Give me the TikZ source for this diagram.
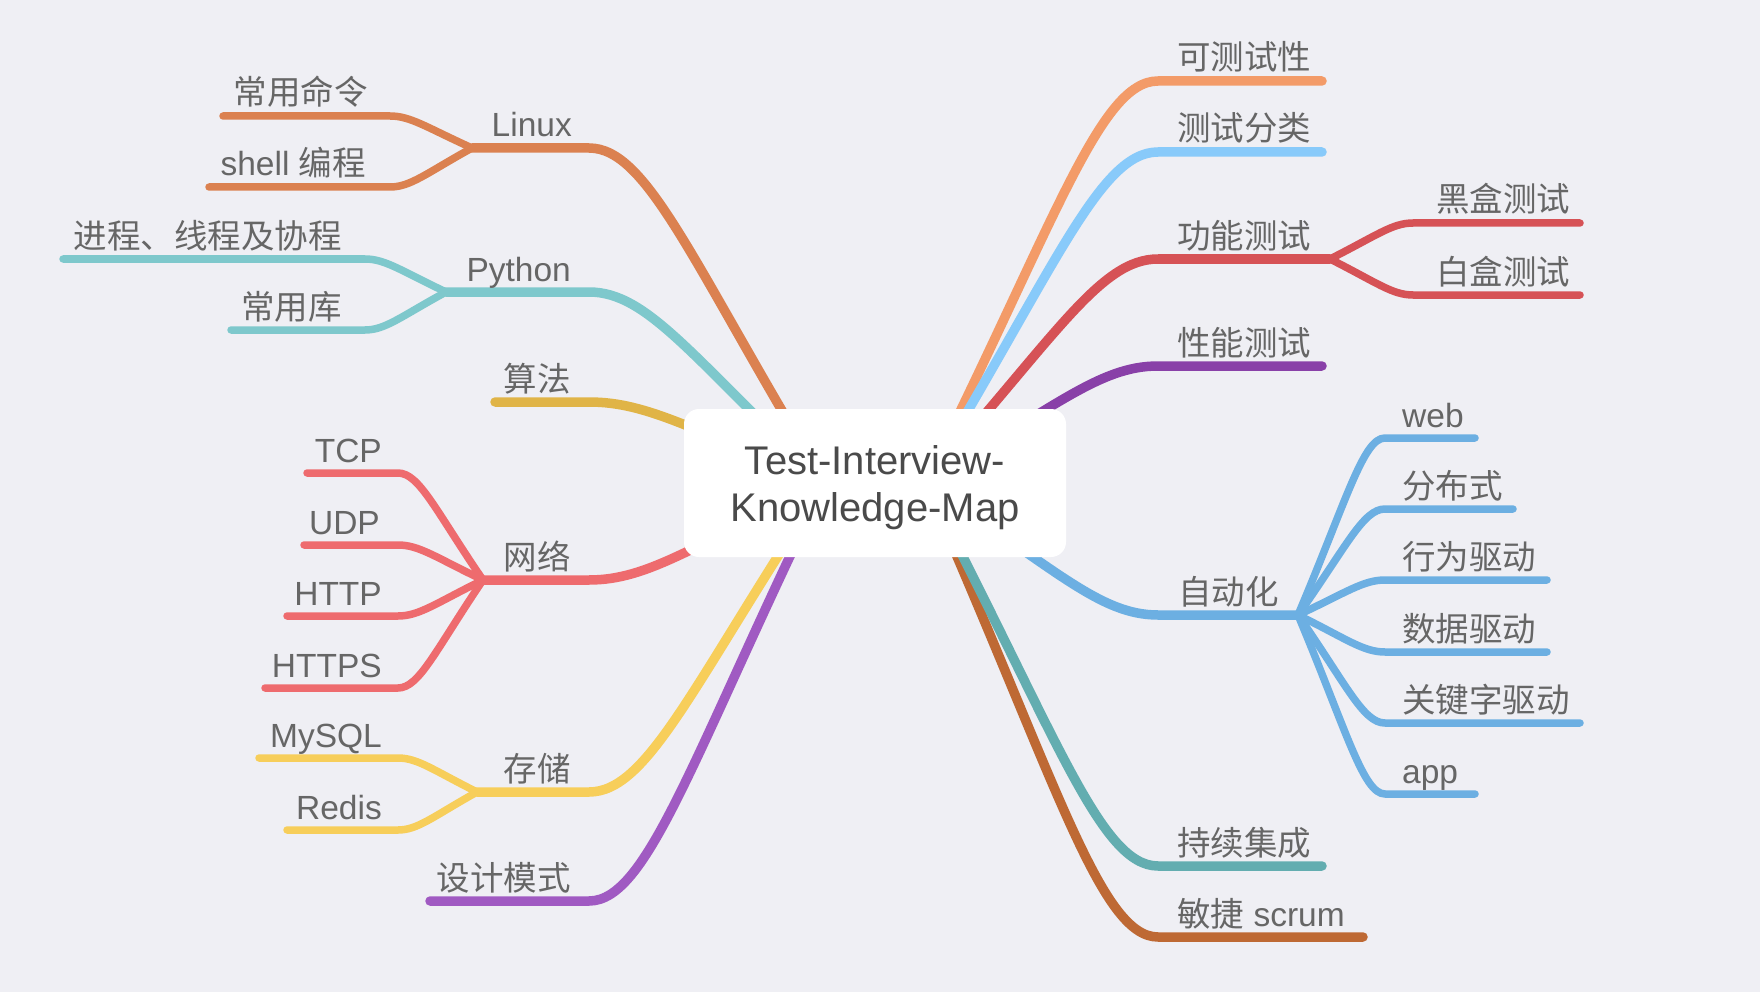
\documentclass[tikz,border=0pt]{standalone}
\usepackage{fontspec}
\setmainfont{Liberation Sans}
\newfontfamily\cjk{Noto Sans CJK SC}
\newcommand\zh[1]{{\cjk #1}}
\usetikzlibrary{calc}
\definecolor{bg}{RGB}{239,239,244}
\definecolor{lblgray}{RGB}{102,102,102}
\definecolor{rootgray}{RGB}{74,74,74}
\definecolor{cLinux}{RGB}{219,129,80}
\definecolor{cPython}{RGB}{126,200,204}
\definecolor{cAlgo}{RGB}{224,180,71}
\definecolor{cNet}{RGB}{238,107,110}
\definecolor{cStore}{RGB}{247,206,90}
\definecolor{cDesign}{RGB}{160,90,194}
\definecolor{cTestab}{RGB}{243,155,104}
\definecolor{cCateg}{RGB}{136,202,250}
\definecolor{cFunc}{RGB}{214,82,86}
\definecolor{cPerf}{RGB}{137,64,168}
\definecolor{cAuto}{RGB}{108,175,226}
\definecolor{cCI}{RGB}{99,173,176}
\definecolor{cAgile}{RGB}{190,105,52}
\begin{document}
\begin{tikzpicture}[x=1pt,y=-1pt,
  branch/.style={to path={let \p1=(\tikztostart), \p2=(\tikztotarget) in
      .. controls ({\x1+0.56*(\x2-\x1)},{\y1+0.65*(\y2-\y1)}) and ({\x2-0.25*(\x2-\x1)},{\y2}) .. (\tikztotarget)}},
  mainline/.style={line width=9.5pt, line cap=round, line join=round},
  subline/.style={line width=7.5pt, line cap=round, line join=round},
  lbl/.style={inner sep=0pt, text=lblgray, font=\fontsize{33.5}{40}\selectfont},
  lblL/.style={lbl, anchor=base east},
  lblR/.style={lbl, anchor=base west},
  rootbox/.style={fill=white, rounded corners=15pt, minimum width=382pt, minimum height=148pt, inner sep=0pt},
  roottext/.style={inner sep=0pt, text=rootgray, align=center, font=\fontsize{40}{47}\selectfont}
]
\useasboundingbox (0,0) rectangle (1760,992);
\fill[bg] (0,0) rectangle (1760,992);

\coordinate (rootL) at (825,483);
\coordinate (rootR) at (925,483);

% left main ends
\coordinate (linux-i) at (589,148);  \coordinate (linux-o) at (472,148);
\coordinate (python-i) at (589,292); \coordinate (python-o) at (446,292);
\coordinate (algo-i) at (589,402);   \coordinate (algo-o) at (495,402);
\coordinate (net-i) at (589,580);    \coordinate (net-o) at (483,580);
\coordinate (store-i) at (589,792);  \coordinate (store-o) at (477,792);
\coordinate (design-i) at (589,901); \coordinate (design-o) at (430,901);
% left children
\coordinate (cmd-i) at (390,116);   \coordinate (cmd-o) at (223,116);
\coordinate (shell-i) at (390,187); \coordinate (shell-o) at (209,187);
\coordinate (proc-i) at (365,259);  \coordinate (proc-o) at (63,259);
\coordinate (lib-i) at (365,330);   \coordinate (lib-o) at (231,330);
\coordinate (tcp-i) at (398,473);   \coordinate (tcp-o) at (307,473);
\coordinate (udp-i) at (398,545);   \coordinate (udp-o) at (304,545);
\coordinate (http-i) at (398,616);  \coordinate (http-o) at (287,616);
\coordinate (https-i) at (398,688); \coordinate (https-o) at (265,688);
\coordinate (mysql-i) at (398,758); \coordinate (mysql-o) at (259,758);
\coordinate (redis-i) at (398,830); \coordinate (redis-o) at (287,830);
% right main ends
\coordinate (testab-i) at (1158,81);  \coordinate (testab-o) at (1322,81);
\coordinate (categ-i) at (1158,152);  \coordinate (categ-o) at (1322,152);
\coordinate (func-i) at (1158,259);   \coordinate (func-o) at (1330,259);
\coordinate (perf-i) at (1158,366);   \coordinate (perf-o) at (1322,366);
\coordinate (auto-i) at (1158,615);   \coordinate (auto-o) at (1298,615);
\coordinate (ci-i) at (1158,866);     \coordinate (ci-o) at (1322,866);
\coordinate (agile-i) at (1158,937);  \coordinate (agile-o) at (1363,937);
% right children
\coordinate (black-i) at (1413,223); \coordinate (black-o) at (1580,223);
\coordinate (white-i) at (1413,295); \coordinate (white-o) at (1580,295);
\coordinate (web-i) at (1385,438);   \coordinate (web-o) at (1475,438);
\coordinate (dist-i) at (1385,509);  \coordinate (dist-o) at (1513,509);
\coordinate (bdd-i) at (1385,580);   \coordinate (bdd-o) at (1547,580);
\coordinate (ddt-i) at (1385,652);   \coordinate (ddt-o) at (1547,652);
\coordinate (kdt-i) at (1385,723);   \coordinate (kdt-o) at (1580,723);
\coordinate (app-i) at (1385,794);   \coordinate (app-o) at (1475,794);

% main branches
\draw[mainline, cLinux]  (rootL) to[branch] (linux-i) -- (linux-o);
\draw[mainline, cPython] (rootL) to[branch] (python-i) -- (python-o);
\draw[mainline, cAlgo]   (rootL) to[branch] (algo-i) -- (algo-o);
\draw[mainline, cNet]    (rootL) to[branch] (net-i) -- (net-o);
\draw[mainline, cStore]  (rootL) to[branch] (store-i) -- (store-o);
\draw[mainline, cDesign] (rootL) to[branch] (design-i) -- (design-o);
\draw[mainline, cTestab] (rootR) to[branch] (testab-i) -- (testab-o);
\draw[mainline, cCateg]  (rootR) to[branch] (categ-i) -- (categ-o);
\draw[mainline, cFunc]   (rootR) to[branch] (func-i) -- (func-o);
\draw[mainline, cPerf]   (rootR) to[branch] (perf-i) -- (perf-o);
\draw[mainline, cAuto]   (rootR) to[branch] (auto-i) -- (auto-o);
\draw[mainline, cAgile]  (rootR) to[branch] (agile-i) -- (agile-o);
\draw[mainline, cCI]     (rootR) to[branch] (ci-i) -- (ci-o);

% sub branches
\draw[subline, cLinux]  (linux-o) to[branch] (cmd-i) -- (cmd-o);
\draw[subline, cLinux]  (linux-o) to[branch] (shell-i) -- (shell-o);
\draw[subline, cPython] (python-o) to[branch] (proc-i) -- (proc-o);
\draw[subline, cPython] (python-o) to[branch] (lib-i) -- (lib-o);
\draw[subline, cNet] (net-o) to[branch] (tcp-i) -- (tcp-o);
\draw[subline, cNet] (net-o) to[branch] (udp-i) -- (udp-o);
\draw[subline, cNet] (net-o) to[branch] (http-i) -- (http-o);
\draw[subline, cNet] (net-o) to[branch] (https-i) -- (https-o);
\draw[subline, cStore] (store-o) to[branch] (mysql-i) -- (mysql-o);
\draw[subline, cStore] (store-o) to[branch] (redis-i) -- (redis-o);
\draw[subline, cFunc] (func-o) to[branch] (black-i) -- (black-o);
\draw[subline, cFunc] (func-o) to[branch] (white-i) -- (white-o);
\draw[subline, cAuto] (auto-o) to[branch] (web-i) -- (web-o);
\draw[subline, cAuto] (auto-o) to[branch] (dist-i) -- (dist-o);
\draw[subline, cAuto] (auto-o) to[branch] (bdd-i) -- (bdd-o);
\draw[subline, cAuto] (auto-o) to[branch] (ddt-i) -- (ddt-o);
\draw[subline, cAuto] (auto-o) to[branch] (kdt-i) -- (kdt-o);
\draw[subline, cAuto] (auto-o) to[branch] (app-i) -- (app-o);

% root
\node[rootbox] (root) at (875,483) {};
\node[roottext] (title) at (875,488) {Test-Interview-\\Knowledge-Map};

% left labels
\node[lblL] (linux)  at (572,137) {Linux};
\node[lblL] (python) at (571,281) {Python};
\node[lblL] (algo)   at (571,391) {\zh{算法}};
\node[lblL] (net)    at (571,569) {\zh{网络}};
\node[lblL] (store)  at (571,781) {\zh{存储}};
\node[lblL] (design) at (571,890) {\zh{设计模式}};
\node[lblL] (cmd)    at (368,105) {\zh{常用命令}};
\node[lblL] (shell)  at (366,176) {shell \zh{编程}};
\node[lblL] (proc)   at (342,248) {\zh{进程、线程及协程}};
\node[lblL] (lib)    at (342,319) {\zh{常用库}};
\node[lblL] (tcp)    at (382,462) {TCP};
\node[lblL] (udp)    at (380,534) {UDP};
\node[lblL] (http)   at (382,605) {HTTP};
\node[lblL] (https)  at (382,677) {HTTPS};
\node[lblL] (mysql)  at (382,747) {MySQL};
\node[lblL] (redis)  at (382,819) {Redis};
% right labels
\node[lblR] (testab) at (1177,70)  {\zh{可测试性}};
\node[lblR] (categ)  at (1177,141) {\zh{测试分类}};
\node[lblR] (func)   at (1177,248) {\zh{功能测试}};
\node[lblR] (perf)   at (1177,355) {\zh{性能测试}};
\node[lblR] (auto)   at (1178,604) {\zh{自动化}};
\node[lblR] (ci)     at (1177,855) {\zh{持续集成}};
\node[lblR] (agile)  at (1177,926) {\zh{敏捷} scrum};
\node[lblR] (black)  at (1436,212) {\zh{黑盒测试}};
\node[lblR] (white)  at (1436,284) {\zh{白盒测试}};
\node[lblR] (web)    at (1402,427) {web};
\node[lblR] (dist)   at (1402,498) {\zh{分布式}};
\node[lblR] (bdd)    at (1402,569) {\zh{行为驱动}};
\node[lblR] (ddt)    at (1402,641) {\zh{数据驱动}};
\node[lblR] (kdt)    at (1402,712) {\zh{关键字驱动}};
\node[lblR] (app)    at (1402,783) {app};
\end{tikzpicture}
\end{document}
